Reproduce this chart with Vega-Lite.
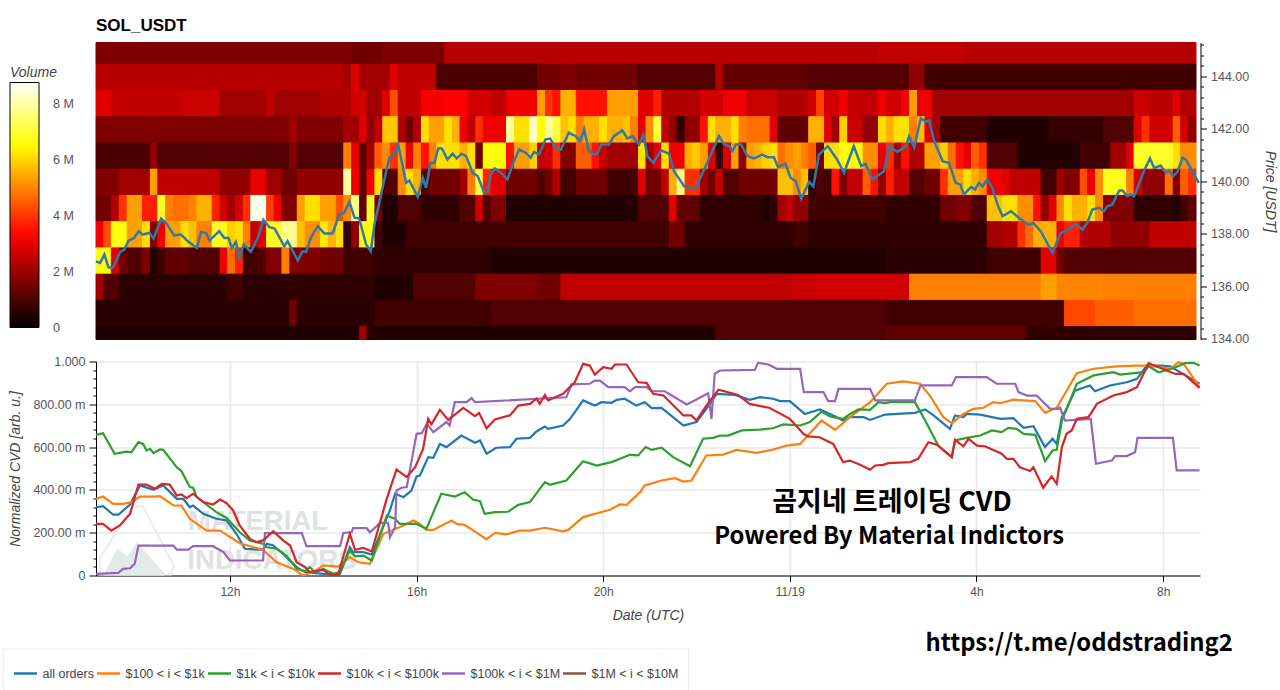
{"$schema":"https://vega.github.io/schema/vega-lite/v6.json","background":"white","padding":{"left":2,"top":16.5,"right":5,"bottom":0},"bounds":"flush","spacing":22,
"config":{"view":{"stroke":null},"font":"Liberation Sans"},
"datasets":{
"heat":[
{"t0":9.13,"t1":14.63,"p0":144.46,"p1":145.29,"v":1.6},{"t0":14.63,"t1":15.3,"p0":144.46,"p1":145.29,"v":1.45},{"t0":15.3,"t1":16.63,"p0":144.46,"p1":145.29,"v":1.6},{"t0":16.63,"t1":19.13,"p0":144.46,"p1":145.29,"v":2.35},{"t0":19.13,"t1":25.96,"p0":144.46,"p1":145.29,"v":2.4},{"t0":25.96,"t1":27.8,"p0":144.46,"p1":145.29,"v":2.5},{"t0":27.8,"t1":32.79,"p0":144.46,"p1":145.29,"v":2.35},
{"t0":9.13,"t1":14.46,"p0":143.46,"p1":144.46,"v":2.4},{"t0":14.46,"t1":14.63,"p0":143.46,"p1":144.46,"v":2.1},{"t0":14.63,"t1":14.8,"p0":143.46,"p1":144.46,"v":2.85},{"t0":14.8,"t1":15.46,"p0":143.46,"p1":144.46,"v":2.1},{"t0":15.46,"t1":15.63,"p0":143.46,"p1":144.46,"v":2.9},{"t0":15.63,"t1":16.46,"p0":143.46,"p1":144.46,"v":2.5},{"t0":16.46,"t1":18.63,"p0":143.46,"p1":144.46,"v":0.96},{"t0":18.63,"t1":19.13,"p0":143.46,"p1":144.46,"v":1.45},{"t0":19.13,"t1":19.46,"p0":143.46,"p1":144.46,"v":1.66},{"t0":19.46,"t1":20.8,"p0":143.46,"p1":144.46,"v":1.45},{"t0":20.8,"t1":22.46,"p0":143.46,"p1":144.46,"v":1.04},{"t0":22.46,"t1":22.63,"p0":143.46,"p1":144.46,"v":2.28},{"t0":22.63,"t1":24.46,"p0":143.46,"p1":144.46,"v":1.24},{"t0":24.46,"t1":26.63,"p0":143.46,"p1":144.46,"v":1.04},{"t0":26.63,"t1":26.96,"p0":143.46,"p1":144.46,"v":1.86},{"t0":26.96,"t1":32.79,"p0":143.46,"p1":144.46,"v":0.83},
{"t0":9.13,"t1":9.46,"p0":142.46,"p1":143.46,"v":2.9},{"t0":9.46,"t1":10.96,"p0":142.46,"p1":143.46,"v":2.48},{"t0":10.96,"t1":11.8,"p0":142.46,"p1":143.46,"v":2.59},{"t0":11.8,"t1":12.8,"p0":142.46,"p1":143.46,"v":2.07},{"t0":12.8,"t1":12.96,"p0":142.46,"p1":143.46,"v":2.48},{"t0":12.96,"t1":13.96,"p0":142.46,"p1":143.46,"v":2.07},{"t0":13.96,"t1":14.63,"p0":142.46,"p1":143.46,"v":2.28},{"t0":14.63,"t1":14.96,"p0":142.46,"p1":143.46,"v":2.69},{"t0":14.96,"t1":15.3,"p0":142.46,"p1":143.46,"v":2.07},{"t0":15.3,"t1":15.46,"p0":142.46,"p1":143.46,"v":2.9},{"t0":15.46,"t1":15.63,"p0":142.46,"p1":143.46,"v":4.3},{"t0":15.63,"t1":16.13,"p0":142.46,"p1":143.46,"v":2.48},{"t0":16.13,"t1":16.63,"p0":142.46,"p1":143.46,"v":3.2},{"t0":16.63,"t1":17.13,"p0":142.46,"p1":143.46,"v":3.3},{"t0":17.13,"t1":17.63,"p0":142.46,"p1":143.46,"v":2.69},{"t0":17.63,"t1":17.96,"p0":142.46,"p1":143.46,"v":2.48},{"t0":17.96,"t1":18.63,"p0":142.46,"p1":143.46,"v":3.1},{"t0":18.63,"t1":18.8,"p0":142.46,"p1":143.46,"v":5.34},{"t0":18.8,"t1":18.96,"p0":142.46,"p1":143.46,"v":3.9},{"t0":18.96,"t1":19.13,"p0":142.46,"p1":143.46,"v":3.5},{"t0":19.13,"t1":19.46,"p0":142.46,"p1":143.46,"v":5.54},{"t0":19.46,"t1":20.13,"p0":142.46,"p1":143.46,"v":3.5},{"t0":20.13,"t1":20.8,"p0":142.46,"p1":143.46,"v":5.34},{"t0":20.8,"t1":21.13,"p0":142.46,"p1":143.46,"v":2.9},{"t0":21.13,"t1":21.3,"p0":142.46,"p1":143.46,"v":3.7},{"t0":21.3,"t1":22.13,"p0":142.46,"p1":143.46,"v":2.28},{"t0":22.13,"t1":22.63,"p0":142.46,"p1":143.46,"v":2.69},{"t0":22.63,"t1":23.13,"p0":142.46,"p1":143.46,"v":3.1},{"t0":23.13,"t1":23.8,"p0":142.46,"p1":143.46,"v":2.59},{"t0":23.8,"t1":24.46,"p0":142.46,"p1":143.46,"v":2.28},{"t0":24.46,"t1":24.63,"p0":142.46,"p1":143.46,"v":2.69},{"t0":24.63,"t1":24.8,"p0":142.46,"p1":143.46,"v":4.1},{"t0":24.8,"t1":25.13,"p0":142.46,"p1":143.46,"v":2.69},{"t0":25.13,"t1":25.3,"p0":142.46,"p1":143.46,"v":3.1},{"t0":25.3,"t1":25.96,"p0":142.46,"p1":143.46,"v":2.48},{"t0":25.96,"t1":26.13,"p0":142.46,"p1":143.46,"v":3.1},{"t0":26.13,"t1":26.46,"p0":142.46,"p1":143.46,"v":2.69},{"t0":26.46,"t1":26.63,"p0":142.46,"p1":143.46,"v":3.1},{"t0":26.63,"t1":26.8,"p0":142.46,"p1":143.46,"v":5.34},{"t0":26.8,"t1":26.96,"p0":142.46,"p1":143.46,"v":3.0},{"t0":26.96,"t1":27.13,"p0":142.46,"p1":143.46,"v":3.1},{"t0":27.13,"t1":31.46,"p0":142.46,"p1":143.46,"v":2.07},{"t0":31.46,"t1":31.8,"p0":142.46,"p1":143.46,"v":2.59},{"t0":31.8,"t1":32.3,"p0":142.46,"p1":143.46,"v":2.38},{"t0":32.3,"t1":32.46,"p0":142.46,"p1":143.46,"v":2.9},{"t0":32.46,"t1":32.79,"p0":142.46,"p1":143.46,"v":2.28},
{"t0":9.13,"t1":13.3,"p0":141.46,"p1":142.46,"v":1.66},{"t0":13.3,"t1":13.46,"p0":141.46,"p1":142.46,"v":2.07},{"t0":13.46,"t1":14.46,"p0":141.46,"p1":142.46,"v":1.66},{"t0":14.46,"t1":14.8,"p0":141.46,"p1":142.46,"v":2.07},{"t0":14.8,"t1":14.96,"p0":141.46,"p1":142.46,"v":2.9},{"t0":14.96,"t1":15.13,"p0":141.46,"p1":142.46,"v":1.86},{"t0":15.13,"t1":15.3,"p0":141.46,"p1":142.46,"v":2.48},{"t0":15.3,"t1":15.63,"p0":141.46,"p1":142.46,"v":5.85},{"t0":15.63,"t1":15.8,"p0":141.46,"p1":142.46,"v":2.28},{"t0":15.8,"t1":15.96,"p0":141.46,"p1":142.46,"v":1.45},{"t0":15.96,"t1":16.13,"p0":141.46,"p1":142.46,"v":2.28},{"t0":16.13,"t1":16.3,"p0":141.46,"p1":142.46,"v":6.15},{"t0":16.3,"t1":16.63,"p0":141.46,"p1":142.46,"v":5.34},{"t0":16.63,"t1":16.8,"p0":141.46,"p1":142.46,"v":6.15},{"t0":16.8,"t1":16.96,"p0":141.46,"p1":142.46,"v":5.54},{"t0":16.96,"t1":17.13,"p0":141.46,"p1":142.46,"v":3.1},{"t0":17.13,"t1":17.3,"p0":141.46,"p1":142.46,"v":2.48},{"t0":17.3,"t1":17.46,"p0":141.46,"p1":142.46,"v":3.9},{"t0":17.46,"t1":17.96,"p0":141.46,"p1":142.46,"v":3.1},{"t0":17.96,"t1":18.13,"p0":141.46,"p1":142.46,"v":7.95},{"t0":18.13,"t1":18.46,"p0":141.46,"p1":142.46,"v":6.15},{"t0":18.46,"t1":18.63,"p0":141.46,"p1":142.46,"v":8.2},{"t0":18.63,"t1":18.8,"p0":141.46,"p1":142.46,"v":6.55},{"t0":18.8,"t1":18.96,"p0":141.46,"p1":142.46,"v":7.95},{"t0":18.96,"t1":19.13,"p0":141.46,"p1":142.46,"v":7.1},{"t0":19.13,"t1":19.3,"p0":141.46,"p1":142.46,"v":5.75},{"t0":19.3,"t1":19.46,"p0":141.46,"p1":142.46,"v":6.15},{"t0":19.46,"t1":19.63,"p0":141.46,"p1":142.46,"v":4.93},{"t0":19.63,"t1":19.96,"p0":141.46,"p1":142.46,"v":5.54},{"t0":19.96,"t1":20.13,"p0":141.46,"p1":142.46,"v":6.15},{"t0":20.13,"t1":20.46,"p0":141.46,"p1":142.46,"v":5.54},{"t0":20.46,"t1":20.63,"p0":141.46,"p1":142.46,"v":5.75},{"t0":20.63,"t1":20.8,"p0":141.46,"p1":142.46,"v":4.93},{"t0":20.8,"t1":20.96,"p0":141.46,"p1":142.46,"v":2.9},{"t0":20.96,"t1":21.13,"p0":141.46,"p1":142.46,"v":5.1},{"t0":21.13,"t1":21.3,"p0":141.46,"p1":142.46,"v":7.1},{"t0":21.3,"t1":21.46,"p0":141.46,"p1":142.46,"v":2.48},{"t0":21.46,"t1":21.63,"p0":141.46,"p1":142.46,"v":1.86},{"t0":21.63,"t1":21.8,"p0":141.46,"p1":142.46,"v":0.62},{"t0":21.8,"t1":22.13,"p0":141.46,"p1":142.46,"v":1.86},{"t0":22.13,"t1":22.3,"p0":141.46,"p1":142.46,"v":3.5},{"t0":22.3,"t1":22.46,"p0":141.46,"p1":142.46,"v":6.15},{"t0":22.46,"t1":22.8,"p0":141.46,"p1":142.46,"v":5.54},{"t0":22.8,"t1":22.96,"p0":141.46,"p1":142.46,"v":6.15},{"t0":22.96,"t1":23.13,"p0":141.46,"p1":142.46,"v":4.93},{"t0":23.13,"t1":23.63,"p0":141.46,"p1":142.46,"v":4.7},{"t0":23.63,"t1":23.8,"p0":141.46,"p1":142.46,"v":2.9},{"t0":23.8,"t1":24.46,"p0":141.46,"p1":142.46,"v":1.24},{"t0":24.46,"t1":24.8,"p0":141.46,"p1":142.46,"v":5.54},{"t0":24.8,"t1":24.96,"p0":141.46,"p1":142.46,"v":2.9},{"t0":24.96,"t1":25.13,"p0":141.46,"p1":142.46,"v":2.07},{"t0":25.13,"t1":25.3,"p0":141.46,"p1":142.46,"v":5.95},{"t0":25.3,"t1":25.63,"p0":141.46,"p1":142.46,"v":2.59},{"t0":25.63,"t1":25.96,"p0":141.46,"p1":142.46,"v":1.86},{"t0":25.96,"t1":26.13,"p0":141.46,"p1":142.46,"v":6.15},{"t0":26.13,"t1":26.3,"p0":141.46,"p1":142.46,"v":5.54},{"t0":26.3,"t1":26.63,"p0":141.46,"p1":142.46,"v":6.15},{"t0":26.63,"t1":26.8,"p0":141.46,"p1":142.46,"v":4.93},{"t0":26.8,"t1":26.96,"p0":141.46,"p1":142.46,"v":5.75},{"t0":26.96,"t1":27.13,"p0":141.46,"p1":142.46,"v":2.9},{"t0":27.13,"t1":27.3,"p0":141.46,"p1":142.46,"v":2.07},{"t0":27.3,"t1":28.3,"p0":141.46,"p1":142.46,"v":0.83},{"t0":28.3,"t1":29.63,"p0":141.46,"p1":142.46,"v":0.41},{"t0":29.63,"t1":30.8,"p0":141.46,"p1":142.46,"v":0.68},{"t0":30.8,"t1":31.46,"p0":141.46,"p1":142.46,"v":1.04},{"t0":31.46,"t1":31.63,"p0":141.46,"p1":142.46,"v":2.9},{"t0":31.63,"t1":31.8,"p0":141.46,"p1":142.46,"v":3.9},{"t0":31.8,"t1":32.3,"p0":141.46,"p1":142.46,"v":2.69},{"t0":32.3,"t1":32.46,"p0":141.46,"p1":142.46,"v":4.5},{"t0":32.46,"t1":32.63,"p0":141.46,"p1":142.46,"v":2.69},{"t0":32.63,"t1":32.79,"p0":141.46,"p1":142.46,"v":1.86},
{"t0":9.13,"t1":10.3,"p0":140.46,"p1":141.46,"v":0.96},{"t0":10.3,"t1":10.46,"p0":140.46,"p1":141.46,"v":1.86},{"t0":10.46,"t1":13.3,"p0":140.46,"p1":141.46,"v":1.04},{"t0":13.3,"t1":13.46,"p0":140.46,"p1":141.46,"v":1.66},{"t0":13.46,"t1":14.46,"p0":140.46,"p1":141.46,"v":1.04},{"t0":14.46,"t1":14.63,"p0":140.46,"p1":141.46,"v":4.93},{"t0":14.63,"t1":14.8,"p0":140.46,"p1":141.46,"v":3.0},{"t0":14.8,"t1":14.96,"p0":140.46,"p1":141.46,"v":1.24},{"t0":14.96,"t1":15.13,"p0":140.46,"p1":141.46,"v":2.07},{"t0":15.13,"t1":15.3,"p0":140.46,"p1":141.46,"v":4.5},{"t0":15.3,"t1":15.46,"p0":140.46,"p1":141.46,"v":5.1},{"t0":15.46,"t1":15.63,"p0":140.46,"p1":141.46,"v":3.9},{"t0":15.63,"t1":15.8,"p0":140.46,"p1":141.46,"v":5.34},{"t0":15.8,"t1":15.96,"p0":140.46,"p1":141.46,"v":3.1},{"t0":15.96,"t1":16.13,"p0":140.46,"p1":141.46,"v":4.93},{"t0":16.13,"t1":16.3,"p0":140.46,"p1":141.46,"v":3.5},{"t0":16.3,"t1":16.46,"p0":140.46,"p1":141.46,"v":4.93},{"t0":16.46,"t1":16.96,"p0":140.46,"p1":141.46,"v":6.15},{"t0":16.96,"t1":17.13,"p0":140.46,"p1":141.46,"v":5.54},{"t0":17.13,"t1":17.3,"p0":140.46,"p1":141.46,"v":6.15},{"t0":17.3,"t1":17.46,"p0":140.46,"p1":141.46,"v":1.45},{"t0":17.46,"t1":17.96,"p0":140.46,"p1":141.46,"v":6.6},{"t0":17.96,"t1":18.13,"p0":140.46,"p1":141.46,"v":3.5},{"t0":18.13,"t1":18.46,"p0":140.46,"p1":141.46,"v":5.34},{"t0":18.46,"t1":18.63,"p0":140.46,"p1":141.46,"v":5.95},{"t0":18.63,"t1":18.8,"p0":140.46,"p1":141.46,"v":2.48},{"t0":18.8,"t1":18.96,"p0":140.46,"p1":141.46,"v":2.69},{"t0":18.96,"t1":19.13,"p0":140.46,"p1":141.46,"v":3.9},{"t0":19.13,"t1":19.46,"p0":140.46,"p1":141.46,"v":1.66},{"t0":19.46,"t1":19.8,"p0":140.46,"p1":141.46,"v":4.5},{"t0":19.8,"t1":19.96,"p0":140.46,"p1":141.46,"v":3.5},{"t0":19.96,"t1":20.13,"p0":140.46,"p1":141.46,"v":2.48},{"t0":20.13,"t1":20.8,"p0":140.46,"p1":141.46,"v":2.07},{"t0":20.8,"t1":20.96,"p0":140.46,"p1":141.46,"v":6.15},{"t0":20.96,"t1":21.13,"p0":140.46,"p1":141.46,"v":2.07},{"t0":21.13,"t1":21.3,"p0":140.46,"p1":141.46,"v":3.0},{"t0":21.3,"t1":21.46,"p0":140.46,"p1":141.46,"v":6.15},{"t0":21.46,"t1":21.8,"p0":140.46,"p1":141.46,"v":3.1},{"t0":21.8,"t1":21.96,"p0":140.46,"p1":141.46,"v":5.54},{"t0":21.96,"t1":22.13,"p0":140.46,"p1":141.46,"v":5.85},{"t0":22.13,"t1":22.3,"p0":140.46,"p1":141.46,"v":5.34},{"t0":22.3,"t1":22.46,"p0":140.46,"p1":141.46,"v":2.9},{"t0":22.46,"t1":22.63,"p0":140.46,"p1":141.46,"v":0.83},{"t0":22.63,"t1":22.8,"p0":140.46,"p1":141.46,"v":2.9},{"t0":22.8,"t1":22.96,"p0":140.46,"p1":141.46,"v":5.34},{"t0":22.96,"t1":23.13,"p0":140.46,"p1":141.46,"v":1.86},{"t0":23.13,"t1":23.3,"p0":140.46,"p1":141.46,"v":5.34},{"t0":23.3,"t1":23.46,"p0":140.46,"p1":141.46,"v":5.54},{"t0":23.46,"t1":23.63,"p0":140.46,"p1":141.46,"v":5.95},{"t0":23.63,"t1":23.8,"p0":140.46,"p1":141.46,"v":6.15},{"t0":23.8,"t1":23.96,"p0":140.46,"p1":141.46,"v":4.7},{"t0":23.96,"t1":24.13,"p0":140.46,"p1":141.46,"v":5.1},{"t0":24.13,"t1":24.3,"p0":140.46,"p1":141.46,"v":5.34},{"t0":24.3,"t1":24.46,"p0":140.46,"p1":141.46,"v":4.93},{"t0":24.46,"t1":24.63,"p0":140.46,"p1":141.46,"v":4.5},{"t0":24.63,"t1":24.8,"p0":140.46,"p1":141.46,"v":1.45},{"t0":24.8,"t1":25.13,"p0":140.46,"p1":141.46,"v":6.15},{"t0":25.13,"t1":25.63,"p0":140.46,"p1":141.46,"v":6.55},{"t0":25.63,"t1":25.96,"p0":140.46,"p1":141.46,"v":5.1},{"t0":25.96,"t1":26.13,"p0":140.46,"p1":141.46,"v":3.0},{"t0":26.13,"t1":26.3,"p0":140.46,"p1":141.46,"v":3.9},{"t0":26.3,"t1":26.46,"p0":140.46,"p1":141.46,"v":2.07},{"t0":26.46,"t1":26.63,"p0":140.46,"p1":141.46,"v":3.5},{"t0":26.63,"t1":26.96,"p0":140.46,"p1":141.46,"v":2.28},{"t0":26.96,"t1":27.3,"p0":140.46,"p1":141.46,"v":5.34},{"t0":27.3,"t1":27.46,"p0":140.46,"p1":141.46,"v":5.95},{"t0":27.46,"t1":27.63,"p0":140.46,"p1":141.46,"v":4.7},{"t0":27.63,"t1":27.8,"p0":140.46,"p1":141.46,"v":3.5},{"t0":27.8,"t1":27.96,"p0":140.46,"p1":141.46,"v":3.0},{"t0":27.96,"t1":28.13,"p0":140.46,"p1":141.46,"v":4.5},{"t0":28.13,"t1":28.3,"p0":140.46,"p1":141.46,"v":3.9},{"t0":28.3,"t1":28.96,"p0":140.46,"p1":141.46,"v":1.04},{"t0":28.96,"t1":30.3,"p0":140.46,"p1":141.46,"v":0.41},{"t0":30.3,"t1":30.96,"p0":140.46,"p1":141.46,"v":0.83},{"t0":30.96,"t1":31.3,"p0":140.46,"p1":141.46,"v":2.07},{"t0":31.3,"t1":31.46,"p0":140.46,"p1":141.46,"v":2.9},{"t0":31.46,"t1":32.3,"p0":140.46,"p1":141.46,"v":6.9},{"t0":32.3,"t1":32.46,"p0":140.46,"p1":141.46,"v":6.15},{"t0":32.46,"t1":32.79,"p0":140.46,"p1":141.46,"v":5.1},
{"t0":9.13,"t1":9.63,"p0":139.46,"p1":140.46,"v":1.66},{"t0":9.63,"t1":10.3,"p0":139.46,"p1":140.46,"v":2.07},{"t0":10.3,"t1":10.46,"p0":139.46,"p1":140.46,"v":5.34},{"t0":10.46,"t1":11.8,"p0":139.46,"p1":140.46,"v":2.48},{"t0":11.8,"t1":12.46,"p0":139.46,"p1":140.46,"v":1.86},{"t0":12.46,"t1":12.8,"p0":139.46,"p1":140.46,"v":3.0},{"t0":12.8,"t1":13.13,"p0":139.46,"p1":140.46,"v":2.07},{"t0":13.13,"t1":13.46,"p0":139.46,"p1":140.46,"v":1.45},{"t0":13.46,"t1":14.46,"p0":139.46,"p1":140.46,"v":1.86},{"t0":14.46,"t1":14.63,"p0":139.46,"p1":140.46,"v":7.95},{"t0":14.63,"t1":14.8,"p0":139.46,"p1":140.46,"v":3.1},{"t0":14.8,"t1":14.96,"p0":139.46,"p1":140.46,"v":1.24},{"t0":14.96,"t1":15.13,"p0":139.46,"p1":140.46,"v":3.1},{"t0":15.13,"t1":15.3,"p0":139.46,"p1":140.46,"v":6.15},{"t0":15.3,"t1":15.63,"p0":139.46,"p1":140.46,"v":1.04},{"t0":15.63,"t1":15.8,"p0":139.46,"p1":140.46,"v":5.1},{"t0":15.8,"t1":15.96,"p0":139.46,"p1":140.46,"v":6.15},{"t0":15.96,"t1":16.13,"p0":139.46,"p1":140.46,"v":5.54},{"t0":16.13,"t1":16.3,"p0":139.46,"p1":140.46,"v":1.04},{"t0":16.3,"t1":16.96,"p0":139.46,"p1":140.46,"v":1.45},{"t0":16.96,"t1":17.13,"p0":139.46,"p1":140.46,"v":2.07},{"t0":17.13,"t1":17.3,"p0":139.46,"p1":140.46,"v":4.93},{"t0":17.3,"t1":17.46,"p0":139.46,"p1":140.46,"v":7.1},{"t0":17.46,"t1":17.63,"p0":139.46,"p1":140.46,"v":3.7},{"t0":17.63,"t1":17.96,"p0":139.46,"p1":140.46,"v":2.9},{"t0":17.96,"t1":18.63,"p0":139.46,"p1":140.46,"v":1.45},{"t0":18.63,"t1":18.8,"p0":139.46,"p1":140.46,"v":1.04},{"t0":18.8,"t1":18.96,"p0":139.46,"p1":140.46,"v":1.45},{"t0":18.96,"t1":19.13,"p0":139.46,"p1":140.46,"v":2.28},{"t0":19.13,"t1":19.46,"p0":139.46,"p1":140.46,"v":0.83},{"t0":19.46,"t1":20.13,"p0":139.46,"p1":140.46,"v":1.45},{"t0":20.13,"t1":20.8,"p0":139.46,"p1":140.46,"v":0.83},{"t0":20.8,"t1":20.96,"p0":139.46,"p1":140.46,"v":2.9},{"t0":20.96,"t1":21.3,"p0":139.46,"p1":140.46,"v":1.45},{"t0":21.3,"t1":21.46,"p0":139.46,"p1":140.46,"v":2.48},{"t0":21.46,"t1":21.63,"p0":139.46,"p1":140.46,"v":5.54},{"t0":21.63,"t1":21.8,"p0":139.46,"p1":140.46,"v":7.66},{"t0":21.8,"t1":22.13,"p0":139.46,"p1":140.46,"v":3.9},{"t0":22.13,"t1":22.3,"p0":139.46,"p1":140.46,"v":2.07},{"t0":22.3,"t1":22.46,"p0":139.46,"p1":140.46,"v":1.45},{"t0":22.46,"t1":22.63,"p0":139.46,"p1":140.46,"v":2.48},{"t0":22.63,"t1":22.96,"p0":139.46,"p1":140.46,"v":1.04},{"t0":22.96,"t1":23.8,"p0":139.46,"p1":140.46,"v":1.45},{"t0":23.8,"t1":24.13,"p0":139.46,"p1":140.46,"v":5.75},{"t0":24.13,"t1":24.3,"p0":139.46,"p1":140.46,"v":5.1},{"t0":24.3,"t1":24.46,"p0":139.46,"p1":140.46,"v":5.75},{"t0":24.46,"t1":24.63,"p0":139.46,"p1":140.46,"v":0.62},{"t0":24.63,"t1":24.8,"p0":139.46,"p1":140.46,"v":1.04},{"t0":24.8,"t1":24.96,"p0":139.46,"p1":140.46,"v":0.83},{"t0":24.96,"t1":25.13,"p0":139.46,"p1":140.46,"v":3.5},{"t0":25.13,"t1":25.3,"p0":139.46,"p1":140.46,"v":1.66},{"t0":25.3,"t1":25.63,"p0":139.46,"p1":140.46,"v":2.48},{"t0":25.63,"t1":25.8,"p0":139.46,"p1":140.46,"v":4.5},{"t0":25.8,"t1":25.96,"p0":139.46,"p1":140.46,"v":3.5},{"t0":25.96,"t1":26.13,"p0":139.46,"p1":140.46,"v":1.86},{"t0":26.13,"t1":26.3,"p0":139.46,"p1":140.46,"v":3.7},{"t0":26.3,"t1":26.63,"p0":139.46,"p1":140.46,"v":2.48},{"t0":26.63,"t1":26.96,"p0":139.46,"p1":140.46,"v":1.04},{"t0":26.96,"t1":27.3,"p0":139.46,"p1":140.46,"v":1.45},{"t0":27.3,"t1":27.46,"p0":139.46,"p1":140.46,"v":3.9},{"t0":27.46,"t1":27.8,"p0":139.46,"p1":140.46,"v":5.34},{"t0":27.8,"t1":27.96,"p0":139.46,"p1":140.46,"v":6.15},{"t0":27.96,"t1":28.13,"p0":139.46,"p1":140.46,"v":5.54},{"t0":28.13,"t1":28.3,"p0":139.46,"p1":140.46,"v":5.1},{"t0":28.3,"t1":28.63,"p0":139.46,"p1":140.46,"v":3.1},{"t0":28.63,"t1":28.8,"p0":139.46,"p1":140.46,"v":2.9},{"t0":28.8,"t1":29.46,"p0":139.46,"p1":140.46,"v":2.48},{"t0":29.46,"t1":29.8,"p0":139.46,"p1":140.46,"v":0.83},{"t0":29.8,"t1":29.96,"p0":139.46,"p1":140.46,"v":2.07},{"t0":29.96,"t1":30.3,"p0":139.46,"p1":140.46,"v":1.66},{"t0":30.3,"t1":30.46,"p0":139.46,"p1":140.46,"v":4.3},{"t0":30.46,"t1":30.63,"p0":139.46,"p1":140.46,"v":3.0},{"t0":30.63,"t1":30.8,"p0":139.46,"p1":140.46,"v":5.1},{"t0":30.8,"t1":31.3,"p0":139.46,"p1":140.46,"v":6.8},{"t0":31.3,"t1":31.46,"p0":139.46,"p1":140.46,"v":4.93},{"t0":31.46,"t1":31.63,"p0":139.46,"p1":140.46,"v":2.69},{"t0":31.63,"t1":32.13,"p0":139.46,"p1":140.46,"v":1.86},{"t0":32.13,"t1":32.3,"p0":139.46,"p1":140.46,"v":4.7},{"t0":32.3,"t1":32.46,"p0":139.46,"p1":140.46,"v":1.66},{"t0":32.46,"t1":32.63,"p0":139.46,"p1":140.46,"v":4.5},{"t0":32.63,"t1":32.79,"p0":139.46,"p1":140.46,"v":3.9},
{"t0":9.13,"t1":9.46,"p0":138.46,"p1":139.46,"v":1.45},{"t0":9.46,"t1":9.63,"p0":138.46,"p1":139.46,"v":2.28},{"t0":9.63,"t1":9.8,"p0":138.46,"p1":139.46,"v":3.9},{"t0":9.8,"t1":10.13,"p0":138.46,"p1":139.46,"v":5.34},{"t0":10.13,"t1":10.46,"p0":138.46,"p1":139.46,"v":3.7},{"t0":10.46,"t1":10.63,"p0":138.46,"p1":139.46,"v":6.9},{"t0":10.63,"t1":10.8,"p0":138.46,"p1":139.46,"v":4.93},{"t0":10.8,"t1":11.13,"p0":138.46,"p1":139.46,"v":4.7},{"t0":11.13,"t1":11.3,"p0":138.46,"p1":139.46,"v":4.93},{"t0":11.3,"t1":11.63,"p0":138.46,"p1":139.46,"v":5.54},{"t0":11.63,"t1":11.8,"p0":138.46,"p1":139.46,"v":3.7},{"t0":11.8,"t1":11.96,"p0":138.46,"p1":139.46,"v":2.69},{"t0":11.96,"t1":12.13,"p0":138.46,"p1":139.46,"v":2.07},{"t0":12.13,"t1":12.3,"p0":138.46,"p1":139.46,"v":2.69},{"t0":12.3,"t1":12.46,"p0":138.46,"p1":139.46,"v":3.9},{"t0":12.46,"t1":12.8,"p0":138.46,"p1":139.46,"v":8.6},{"t0":12.8,"t1":12.96,"p0":138.46,"p1":139.46,"v":4.1},{"t0":12.96,"t1":13.13,"p0":138.46,"p1":139.46,"v":3.1},{"t0":13.13,"t1":13.46,"p0":138.46,"p1":139.46,"v":1.66},{"t0":13.46,"t1":13.63,"p0":138.46,"p1":139.46,"v":5.34},{"t0":13.63,"t1":13.96,"p0":138.46,"p1":139.46,"v":6.15},{"t0":13.96,"t1":14.3,"p0":138.46,"p1":139.46,"v":5.34},{"t0":14.3,"t1":14.46,"p0":138.46,"p1":139.46,"v":4.3},{"t0":14.46,"t1":14.63,"p0":138.46,"p1":139.46,"v":5.1},{"t0":14.63,"t1":14.8,"p0":138.46,"p1":139.46,"v":7.66},{"t0":14.8,"t1":14.96,"p0":138.46,"p1":139.46,"v":1.24},{"t0":14.96,"t1":15.13,"p0":138.46,"p1":139.46,"v":6.9},{"t0":15.13,"t1":15.3,"p0":138.46,"p1":139.46,"v":1.45},{"t0":15.3,"t1":15.63,"p0":138.46,"p1":139.46,"v":0.41},{"t0":15.63,"t1":16.13,"p0":138.46,"p1":139.46,"v":1.04},{"t0":16.13,"t1":16.96,"p0":138.46,"p1":139.46,"v":0.62},{"t0":16.96,"t1":17.3,"p0":138.46,"p1":139.46,"v":1.04},{"t0":17.3,"t1":17.46,"p0":138.46,"p1":139.46,"v":2.69},{"t0":17.46,"t1":17.63,"p0":138.46,"p1":139.46,"v":1.04},{"t0":17.63,"t1":17.96,"p0":138.46,"p1":139.46,"v":1.66},{"t0":17.96,"t1":20.8,"p0":138.46,"p1":139.46,"v":0.41},{"t0":20.8,"t1":21.46,"p0":138.46,"p1":139.46,"v":1.04},{"t0":21.46,"t1":21.63,"p0":138.46,"p1":139.46,"v":2.9},{"t0":21.63,"t1":22.13,"p0":138.46,"p1":139.46,"v":1.24},{"t0":22.13,"t1":23.46,"p0":138.46,"p1":139.46,"v":0.62},{"t0":23.46,"t1":23.63,"p0":138.46,"p1":139.46,"v":0.41},{"t0":23.63,"t1":23.8,"p0":138.46,"p1":139.46,"v":0.62},{"t0":23.8,"t1":23.96,"p0":138.46,"p1":139.46,"v":2.07},{"t0":23.96,"t1":24.13,"p0":138.46,"p1":139.46,"v":2.48},{"t0":24.13,"t1":24.46,"p0":138.46,"p1":139.46,"v":1.86},{"t0":24.46,"t1":26.13,"p0":138.46,"p1":139.46,"v":0.83},{"t0":26.13,"t1":27.3,"p0":138.46,"p1":139.46,"v":0.62},{"t0":27.3,"t1":27.63,"p0":138.46,"p1":139.46,"v":1.45},{"t0":27.63,"t1":27.96,"p0":138.46,"p1":139.46,"v":1.66},{"t0":27.96,"t1":28.3,"p0":138.46,"p1":139.46,"v":1.04},{"t0":28.3,"t1":28.63,"p0":138.46,"p1":139.46,"v":5.75},{"t0":28.63,"t1":28.96,"p0":138.46,"p1":139.46,"v":6.15},{"t0":28.96,"t1":29.3,"p0":138.46,"p1":139.46,"v":5.1},{"t0":29.3,"t1":29.46,"p0":138.46,"p1":139.46,"v":3.5},{"t0":29.46,"t1":29.63,"p0":138.46,"p1":139.46,"v":1.86},{"t0":29.63,"t1":29.8,"p0":138.46,"p1":139.46,"v":2.9},{"t0":29.8,"t1":29.96,"p0":138.46,"p1":139.46,"v":5.1},{"t0":29.96,"t1":30.13,"p0":138.46,"p1":139.46,"v":6.15},{"t0":30.13,"t1":30.46,"p0":138.46,"p1":139.46,"v":5.54},{"t0":30.46,"t1":30.63,"p0":138.46,"p1":139.46,"v":6.15},{"t0":30.63,"t1":30.8,"p0":138.46,"p1":139.46,"v":5.1},{"t0":30.8,"t1":31.46,"p0":138.46,"p1":139.46,"v":1.66},{"t0":31.46,"t1":32.3,"p0":138.46,"p1":139.46,"v":0.62},{"t0":32.3,"t1":32.46,"p0":138.46,"p1":139.46,"v":0.41},{"t0":32.46,"t1":32.63,"p0":138.46,"p1":139.46,"v":0.83},{"t0":32.63,"t1":32.79,"p0":138.46,"p1":139.46,"v":1.24},
{"t0":9.13,"t1":9.3,"p0":137.46,"p1":138.46,"v":3.1},{"t0":9.3,"t1":9.46,"p0":137.46,"p1":138.46,"v":4.3},{"t0":9.46,"t1":9.8,"p0":137.46,"p1":138.46,"v":6.65},{"t0":9.8,"t1":10.13,"p0":137.46,"p1":138.46,"v":5.34},{"t0":10.13,"t1":10.3,"p0":137.46,"p1":138.46,"v":6.15},{"t0":10.3,"t1":10.46,"p0":137.46,"p1":138.46,"v":1.66},{"t0":10.46,"t1":10.63,"p0":137.46,"p1":138.46,"v":3.1},{"t0":10.63,"t1":10.96,"p0":137.46,"p1":138.46,"v":5.34},{"t0":10.96,"t1":11.13,"p0":137.46,"p1":138.46,"v":6.15},{"t0":11.13,"t1":11.3,"p0":137.46,"p1":138.46,"v":5.75},{"t0":11.3,"t1":11.63,"p0":137.46,"p1":138.46,"v":4.93},{"t0":11.63,"t1":11.96,"p0":137.46,"p1":138.46,"v":6.82},{"t0":11.96,"t1":12.13,"p0":137.46,"p1":138.46,"v":5.95},{"t0":12.13,"t1":12.3,"p0":137.46,"p1":138.46,"v":6.15},{"t0":12.3,"t1":12.46,"p0":137.46,"p1":138.46,"v":4.93},{"t0":12.46,"t1":12.63,"p0":137.46,"p1":138.46,"v":2.48},{"t0":12.63,"t1":12.8,"p0":137.46,"p1":138.46,"v":2.9},{"t0":12.8,"t1":13.13,"p0":137.46,"p1":138.46,"v":6.82},{"t0":13.13,"t1":13.46,"p0":137.46,"p1":138.46,"v":7.8},{"t0":13.46,"t1":13.63,"p0":137.46,"p1":138.46,"v":5.75},{"t0":13.63,"t1":13.96,"p0":137.46,"p1":138.46,"v":5.1},{"t0":13.96,"t1":14.13,"p0":137.46,"p1":138.46,"v":6.3},{"t0":14.13,"t1":14.3,"p0":137.46,"p1":138.46,"v":5.54},{"t0":14.3,"t1":14.46,"p0":137.46,"p1":138.46,"v":6.15},{"t0":14.46,"t1":14.63,"p0":137.46,"p1":138.46,"v":0.62},{"t0":14.63,"t1":14.8,"p0":137.46,"p1":138.46,"v":1.86},{"t0":14.8,"t1":15.13,"p0":137.46,"p1":138.46,"v":6.6},{"t0":15.13,"t1":15.3,"p0":137.46,"p1":138.46,"v":0.83},{"t0":15.3,"t1":15.8,"p0":137.46,"p1":138.46,"v":0.41},{"t0":15.8,"t1":21.46,"p0":137.46,"p1":138.46,"v":0.83},{"t0":21.46,"t1":21.8,"p0":137.46,"p1":138.46,"v":1.45},{"t0":21.8,"t1":24.13,"p0":137.46,"p1":138.46,"v":0.62},{"t0":24.13,"t1":24.46,"p0":137.46,"p1":138.46,"v":0.83},{"t0":24.46,"t1":28.3,"p0":137.46,"p1":138.46,"v":0.6},{"t0":28.3,"t1":28.63,"p0":137.46,"p1":138.46,"v":2.07},{"t0":28.63,"t1":28.96,"p0":137.46,"p1":138.46,"v":2.28},{"t0":28.96,"t1":29.13,"p0":137.46,"p1":138.46,"v":3.9},{"t0":29.13,"t1":29.3,"p0":137.46,"p1":138.46,"v":4.7},{"t0":29.3,"t1":29.8,"p0":137.46,"p1":138.46,"v":5.54},{"t0":29.8,"t1":29.96,"p0":137.46,"p1":138.46,"v":3.1},{"t0":29.96,"t1":30.3,"p0":137.46,"p1":138.46,"v":3.7},{"t0":30.3,"t1":30.96,"p0":137.46,"p1":138.46,"v":2.28},{"t0":30.96,"t1":31.8,"p0":137.46,"p1":138.46,"v":1.86},{"t0":31.8,"t1":32.79,"p0":137.46,"p1":138.46,"v":2.48},
{"t0":9.13,"t1":9.46,"p0":136.46,"p1":137.46,"v":6.65},{"t0":9.46,"t1":9.63,"p0":136.46,"p1":137.46,"v":2.9},{"t0":9.63,"t1":9.8,"p0":136.46,"p1":137.46,"v":1.45},{"t0":9.8,"t1":10.13,"p0":136.46,"p1":137.46,"v":1.04},{"t0":10.13,"t1":10.3,"p0":136.46,"p1":137.46,"v":1.66},{"t0":10.3,"t1":10.46,"p0":136.46,"p1":137.46,"v":0.41},{"t0":10.46,"t1":10.63,"p0":136.46,"p1":137.46,"v":0.83},{"t0":10.63,"t1":11.13,"p0":136.46,"p1":137.46,"v":1.24},{"t0":11.13,"t1":11.8,"p0":136.46,"p1":137.46,"v":1.04},{"t0":11.8,"t1":11.96,"p0":136.46,"p1":137.46,"v":3.1},{"t0":11.96,"t1":12.13,"p0":136.46,"p1":137.46,"v":4.7},{"t0":12.13,"t1":12.3,"p0":136.46,"p1":137.46,"v":3.7},{"t0":12.3,"t1":12.63,"p0":136.46,"p1":137.46,"v":0.83},{"t0":12.63,"t1":12.8,"p0":136.46,"p1":137.46,"v":1.04},{"t0":12.8,"t1":13.13,"p0":136.46,"p1":137.46,"v":1.66},{"t0":13.13,"t1":13.3,"p0":136.46,"p1":137.46,"v":4.93},{"t0":13.3,"t1":13.96,"p0":136.46,"p1":137.46,"v":1.66},{"t0":13.96,"t1":14.46,"p0":136.46,"p1":137.46,"v":1.45},{"t0":14.46,"t1":15.13,"p0":136.46,"p1":137.46,"v":0.83},{"t0":15.13,"t1":17.63,"p0":136.46,"p1":137.46,"v":0.62},{"t0":17.63,"t1":26.13,"p0":136.46,"p1":137.46,"v":0.41},{"t0":26.13,"t1":28.3,"p0":136.46,"p1":137.46,"v":0.54},{"t0":28.3,"t1":29.46,"p0":136.46,"p1":137.46,"v":0.83},{"t0":29.46,"t1":29.8,"p0":136.46,"p1":137.46,"v":2.9},{"t0":29.8,"t1":29.96,"p0":136.46,"p1":137.46,"v":1.45},{"t0":29.96,"t1":32.79,"p0":136.46,"p1":137.46,"v":1.04},
{"t0":9.13,"t1":9.3,"p0":135.46,"p1":136.46,"v":2.07},{"t0":9.3,"t1":9.63,"p0":135.46,"p1":136.46,"v":1.04},{"t0":9.63,"t1":11.96,"p0":135.46,"p1":136.46,"v":0.54},{"t0":11.96,"t1":12.3,"p0":135.46,"p1":136.46,"v":0.83},{"t0":12.3,"t1":13.3,"p0":135.46,"p1":136.46,"v":0.54},{"t0":13.3,"t1":15.13,"p0":135.46,"p1":136.46,"v":0.62},{"t0":15.13,"t1":15.96,"p0":135.46,"p1":136.46,"v":0.41},{"t0":15.96,"t1":17.3,"p0":135.46,"p1":136.46,"v":1.04},{"t0":17.3,"t1":18.63,"p0":135.46,"p1":136.46,"v":1.66},{"t0":18.63,"t1":19.13,"p0":135.46,"p1":136.46,"v":1.45},{"t0":19.13,"t1":24.13,"p0":135.46,"p1":136.46,"v":2.48},{"t0":24.13,"t1":24.63,"p0":135.46,"p1":136.46,"v":2.59},{"t0":24.63,"t1":26.63,"p0":135.46,"p1":136.46,"v":2.69},{"t0":26.63,"t1":29.46,"p0":135.46,"p1":136.46,"v":4.93},{"t0":29.46,"t1":29.8,"p0":135.46,"p1":136.46,"v":5.34},{"t0":29.8,"t1":30.8,"p0":135.46,"p1":136.46,"v":5.0},{"t0":30.8,"t1":32.79,"p0":135.46,"p1":136.46,"v":4.93},
{"t0":9.13,"t1":13.3,"p0":134.46,"p1":135.46,"v":0.54},{"t0":13.3,"t1":13.46,"p0":134.46,"p1":135.46,"v":1.45},{"t0":13.46,"t1":15.13,"p0":134.46,"p1":135.46,"v":0.54},{"t0":15.13,"t1":17.63,"p0":134.46,"p1":135.46,"v":0.83},{"t0":17.63,"t1":26.13,"p0":134.46,"p1":135.46,"v":1.04},{"t0":26.13,"t1":29.96,"p0":134.46,"p1":135.46,"v":0.83},{"t0":29.96,"t1":30.63,"p0":134.46,"p1":135.46,"v":4.2},{"t0":30.63,"t1":31.46,"p0":134.46,"p1":135.46,"v":4.5},{"t0":31.46,"t1":32.79,"p0":134.46,"p1":135.46,"v":4.7},
{"t0":9.13,"t1":14.8,"p0":133.97,"p1":134.46,"v":0.41},{"t0":14.8,"t1":14.96,"p0":133.97,"p1":134.46,"v":2.07},{"t0":14.96,"t1":15.13,"p0":133.97,"p1":134.46,"v":0.62},{"t0":15.13,"t1":22.46,"p0":133.97,"p1":134.46,"v":0.41},{"t0":22.46,"t1":26.13,"p0":133.97,"p1":134.46,"v":1.04},{"t0":26.13,"t1":29.13,"p0":133.97,"p1":134.46,"v":1.24},{"t0":29.13,"t1":32.79,"p0":133.97,"p1":134.46,"v":0.62}
],
"price":[{"t0":9.13,"p0":136.95},{"t0":9.22,"p0":136.89},{"t0":9.31,"p0":137.21},{"t0":9.4,"p0":136.72},{"t0":9.49,"p0":136.7},{"t0":9.56,"p0":136.95},{"t0":9.65,"p0":137.31},{"t0":9.74,"p0":137.4},{"t0":9.83,"p0":137.74},{"t0":9.95,"p0":137.84},{"t0":10.05,"p0":138.1},{"t0":10.13,"p0":137.97},{"t0":10.28,"p0":138.03},{"t0":10.37,"p0":137.82},{"t0":10.53,"p0":138.58},{"t0":10.64,"p0":138.41},{"t0":10.81,"p0":137.94},{"t0":10.96,"p0":137.97},{"t0":11.1,"p0":137.72},{"t0":11.3,"p0":137.46},{"t0":11.39,"p0":138.07},{"t0":11.5,"p0":138.03},{"t0":11.57,"p0":137.74},{"t0":11.78,"p0":138.1},{"t0":11.89,"p0":137.84},{"t0":11.98,"p0":137.84},{"t0":12.05,"p0":137.46},{"t0":12.14,"p0":137.69},{"t0":12.21,"p0":137.08},{"t0":12.31,"p0":137.59},{"t0":12.46,"p0":137.31},{"t0":12.61,"p0":137.84},{"t0":12.73,"p0":138.53},{"t0":12.86,"p0":138.25},{"t0":12.97,"p0":138.2},{"t0":13.18,"p0":137.52},{"t0":13.25,"p0":137.72},{"t0":13.47,"p0":136.98},{"t0":13.57,"p0":137.33},{"t0":13.65,"p0":137.31},{"t0":13.75,"p0":137.84},{"t0":13.9,"p0":138.29},{"t0":14.04,"p0":138.01},{"t0":14.22,"p0":138.01},{"t0":14.36,"p0":138.73},{"t0":14.47,"p0":138.8},{"t0":14.58,"p0":139.22},{"t0":14.69,"p0":138.61},{"t0":14.79,"p0":138.58},{"t0":14.94,"p0":137.59},{"t0":15.04,"p0":137.33},{"t0":15.12,"p0":138.35},{"t0":15.26,"p0":139.5},{"t0":15.44,"p0":140.9},{"t0":15.55,"p0":141.0},{"t0":15.63,"p0":141.4},{"t0":15.8,"p0":139.94},{"t0":15.87,"p0":140.03},{"t0":16.05,"p0":139.41},{"t0":16.16,"p0":140.13},{"t0":16.23,"p0":139.75},{"t0":16.32,"p0":140.7},{"t0":16.41,"p0":140.7},{"t0":16.49,"p0":141.25},{"t0":16.57,"p0":141.25},{"t0":16.69,"p0":140.83},{"t0":16.8,"p0":141.05},{"t0":16.89,"p0":140.87},{"t0":16.99,"p0":141.05},{"t0":17.09,"p0":140.96},{"t0":17.23,"p0":140.32},{"t0":17.34,"p0":140.2},{"t0":17.48,"p0":139.56},{"t0":17.55,"p0":139.62},{"t0":17.62,"p0":140.26},{"t0":17.71,"p0":140.49},{"t0":17.84,"p0":140.32},{"t0":17.98,"p0":140.07},{"t0":18.09,"p0":140.64},{"t0":18.23,"p0":141.21},{"t0":18.37,"p0":141.09},{"t0":18.48,"p0":140.9},{"t0":18.55,"p0":141.12},{"t0":18.66,"p0":141.02},{"t0":18.8,"p0":141.6},{"t0":18.9,"p0":141.63},{"t0":19.02,"p0":141.25},{"t0":19.13,"p0":141.21},{"t0":19.3,"p0":141.85},{"t0":19.45,"p0":141.72},{"t0":19.54,"p0":141.53},{"t0":19.63,"p0":141.98},{"t0":19.73,"p0":141.15},{"t0":19.84,"p0":141.02},{"t0":19.91,"p0":141.05},{"t0":20.0,"p0":141.4},{"t0":20.16,"p0":141.4},{"t0":20.27,"p0":141.72},{"t0":20.45,"p0":141.94},{"t0":20.56,"p0":141.63},{"t0":20.67,"p0":141.72},{"t0":20.81,"p0":141.4},{"t0":20.9,"p0":141.79},{"t0":20.99,"p0":140.96},{"t0":21.12,"p0":140.7},{"t0":21.28,"p0":141.18},{"t0":21.46,"p0":141.05},{"t0":21.56,"p0":140.39},{"t0":21.78,"p0":139.81},{"t0":21.89,"p0":139.73},{"t0":22.03,"p0":139.75},{"t0":22.21,"p0":140.45},{"t0":22.53,"p0":141.72},{"t0":22.64,"p0":141.4},{"t0":22.75,"p0":141.34},{"t0":22.82,"p0":141.15},{"t0":22.89,"p0":141.4},{"t0":23.01,"p0":141.4},{"t0":23.14,"p0":140.96},{"t0":23.28,"p0":140.87},{"t0":23.46,"p0":141.02},{"t0":23.57,"p0":140.92},{"t0":23.71,"p0":140.92},{"t0":23.8,"p0":140.54},{"t0":23.96,"p0":140.67},{"t0":24.07,"p0":140.13},{"t0":24.18,"p0":140.01},{"t0":24.3,"p0":139.33},{"t0":24.47,"p0":139.98},{"t0":24.56,"p0":139.81},{"t0":24.68,"p0":141.02},{"t0":24.87,"p0":141.34},{"t0":25.07,"p0":140.83},{"t0":25.22,"p0":140.32},{"t0":25.43,"p0":141.34},{"t0":25.59,"p0":140.58},{"t0":25.68,"p0":140.67},{"t0":25.83,"p0":140.07},{"t0":26.01,"p0":140.3},{"t0":26.08,"p0":140.39},{"t0":26.19,"p0":141.34},{"t0":26.37,"p0":141.12},{"t0":26.55,"p0":141.34},{"t0":26.62,"p0":141.72},{"t0":26.73,"p0":141.28},{"t0":26.87,"p0":142.4},{"t0":26.98,"p0":142.27},{"t0":27.05,"p0":142.32},{"t0":27.16,"p0":141.53},{"t0":27.34,"p0":140.77},{"t0":27.48,"p0":140.7},{"t0":27.62,"p0":139.94},{"t0":27.72,"p0":139.88},{"t0":27.8,"p0":139.5},{"t0":27.95,"p0":139.78},{"t0":28.04,"p0":139.69},{"t0":28.12,"p0":139.94},{"t0":28.2,"p0":139.81},{"t0":28.3,"p0":140.07},{"t0":28.41,"p0":139.75},{"t0":28.52,"p0":139.11},{"t0":28.63,"p0":138.67},{"t0":28.81,"p0":138.86},{"t0":28.98,"p0":138.61},{"t0":29.18,"p0":138.33},{"t0":29.29,"p0":138.41},{"t0":29.45,"p0":138.1},{"t0":29.7,"p0":137.27},{"t0":29.88,"p0":138.03},{"t0":30.02,"p0":138.12},{"t0":30.2,"p0":138.38},{"t0":30.35,"p0":138.16},{"t0":30.45,"p0":138.41},{"t0":30.56,"p0":138.92},{"t0":30.71,"p0":138.99},{"t0":30.81,"p0":138.86},{"t0":30.88,"p0":139.05},{"t0":30.99,"p0":139.11},{"t0":31.14,"p0":139.65},{"t0":31.21,"p0":139.65},{"t0":31.31,"p0":139.43},{"t0":31.39,"p0":139.5},{"t0":31.46,"p0":139.43},{"t0":31.67,"p0":140.39},{"t0":31.8,"p0":140.87},{"t0":31.89,"p0":140.51},{"t0":32.03,"p0":140.6},{"t0":32.14,"p0":140.32},{"t0":32.21,"p0":140.41},{"t0":32.3,"p0":140.2},{"t0":32.39,"p0":140.36},{"t0":32.5,"p0":140.9},{"t0":32.57,"p0":140.83},{"t0":32.85,"p0":139.94}],
"cvdAll":[{"t":9.13,"v":0.319},{"t":9.28,"v":0.324},{"t":9.5,"v":0.284},{"t":9.61,"v":0.284},{"t":9.86,"v":0.332},{"t":10.07,"v":0.421},{"t":10.36,"v":0.4},{"t":10.57,"v":0.421},{"t":10.86,"v":0.358},{"t":11.0,"v":0.358},{"t":11.14,"v":0.319},{"t":11.21,"v":0.327},{"t":11.43,"v":0.288},{"t":11.71,"v":0.265},{"t":11.93,"v":0.257},{"t":12.14,"v":0.195},{"t":12.32,"v":0.125},{"t":12.71,"v":0.12},{"t":12.79,"v":0.148},{"t":12.93,"v":0.14},{"t":13.14,"v":0.101},{"t":13.43,"v":0.039},{"t":13.61,"v":0.016},{"t":14.0,"v":0.008},{"t":14.29,"v":0.005},{"t":14.36,"v":0.008},{"t":14.57,"v":0.132},{"t":14.64,"v":0.109},{"t":14.86,"v":0.109},{"t":15.04,"v":0.098},{"t":15.43,"v":0.305},{"t":15.54,"v":0.382},{"t":15.72,"v":0.366},{"t":15.89,"v":0.397},{"t":16.0,"v":0.463},{"t":16.07,"v":0.467},{"t":16.25,"v":0.553},{"t":16.36,"v":0.55},{"t":16.5,"v":0.615},{"t":16.64,"v":0.6},{"t":16.96,"v":0.654},{"t":17.25,"v":0.62},{"t":17.36,"v":0.631},{"t":17.5,"v":0.569},{"t":17.71,"v":0.597},{"t":18.0,"v":0.6},{"t":18.14,"v":0.639},{"t":18.43,"v":0.643},{"t":18.57,"v":0.673},{"t":18.75,"v":0.696},{"t":18.82,"v":0.685},{"t":19.14,"v":0.701},{"t":19.29,"v":0.732},{"t":19.57,"v":0.818},{"t":19.82,"v":0.794},{"t":19.96,"v":0.81},{"t":20.18,"v":0.807},{"t":20.29,"v":0.821},{"t":20.46,"v":0.826},{"t":20.71,"v":0.794},{"t":20.89,"v":0.81},{"t":21.04,"v":0.782},{"t":21.25,"v":0.783},{"t":21.72,"v":0.701},{"t":22.0,"v":0.717},{"t":22.29,"v":0.802},{"t":22.43,"v":0.849},{"t":22.82,"v":0.844},{"t":23.14,"v":0.821},{"t":23.36,"v":0.833},{"t":23.64,"v":0.826},{"t":23.79,"v":0.815},{"t":24.0,"v":0.815},{"t":24.32,"v":0.755},{"t":24.64,"v":0.776},{"t":24.93,"v":0.748},{"t":25.14,"v":0.724},{"t":25.29,"v":0.74},{"t":25.58,"v":0.74},{"t":25.72,"v":0.727},{"t":26.04,"v":0.752},{"t":26.68,"v":0.76},{"t":26.9,"v":0.776},{"t":27.08,"v":0.748},{"t":27.43,"v":0.685},{"t":27.54,"v":0.748},{"t":27.72,"v":0.74},{"t":27.79,"v":0.755},{"t":28.08,"v":0.752},{"t":28.51,"v":0.732},{"t":28.79,"v":0.735},{"t":29.01,"v":0.69},{"t":29.22,"v":0.698},{"t":29.47,"v":0.6},{"t":29.63,"v":0.639},{"t":29.72,"v":0.615},{"t":29.83,"v":0.74},{"t":29.93,"v":0.779},{"t":30.11,"v":0.864},{"t":30.43,"v":0.888},{"t":30.54,"v":0.861},{"t":30.86,"v":0.888},{"t":31.22,"v":0.903},{"t":31.44,"v":0.919},{"t":31.65,"v":0.981},{"t":31.94,"v":0.981},{"t":32.15,"v":0.977},{"t":32.78,"v":0.896}],
"cvd100":[{"t":9.13,"v":0.358},{"t":9.28,"v":0.369},{"t":9.5,"v":0.335},{"t":9.71,"v":0.335},{"t":9.89,"v":0.343},{"t":10.07,"v":0.369},{"t":10.36,"v":0.369},{"t":10.5,"v":0.371},{"t":10.79,"v":0.327},{"t":10.96,"v":0.327},{"t":11.14,"v":0.265},{"t":11.5,"v":0.21},{"t":11.79,"v":0.21},{"t":12.21,"v":0.151},{"t":12.71,"v":0.12},{"t":13.0,"v":0.062},{"t":13.36,"v":0.031},{"t":13.57,"v":0.0},{"t":13.79,"v":0.016},{"t":14.0,"v":0.047},{"t":14.32,"v":0.042},{"t":14.57,"v":0.086},{"t":14.75,"v":0.062},{"t":15.0,"v":0.055},{"t":15.29,"v":0.195},{"t":15.72,"v":0.234},{"t":15.93,"v":0.257},{"t":16.07,"v":0.241},{"t":16.21,"v":0.213},{"t":16.36,"v":0.213},{"t":16.75,"v":0.257},{"t":16.86,"v":0.241},{"t":17.03,"v":0.237},{"t":17.5,"v":0.17},{"t":17.68,"v":0.199},{"t":17.93,"v":0.192},{"t":18.21,"v":0.21},{"t":18.43,"v":0.21},{"t":18.75,"v":0.223},{"t":19.14,"v":0.206},{"t":19.25,"v":0.213},{"t":19.57,"v":0.273},{"t":20.14,"v":0.307},{"t":20.36,"v":0.332},{"t":20.5,"v":0.33},{"t":20.79,"v":0.389},{"t":20.89,"v":0.421},{"t":21.25,"v":0.444},{"t":21.54,"v":0.455},{"t":21.72,"v":0.439},{"t":21.89,"v":0.444},{"t":22.21,"v":0.561},{"t":22.57,"v":0.565},{"t":22.86,"v":0.587},{"t":23.29,"v":0.573},{"t":23.64,"v":0.589},{"t":23.93,"v":0.607},{"t":24.22,"v":0.615},{"t":24.68,"v":0.724},{"t":24.97,"v":0.681},{"t":25.29,"v":0.74},{"t":25.72,"v":0.81},{"t":26.08,"v":0.896},{"t":26.43,"v":0.907},{"t":26.79,"v":0.896},{"t":27.0,"v":0.841},{"t":27.29,"v":0.74},{"t":27.47,"v":0.712},{"t":27.72,"v":0.755},{"t":27.93,"v":0.779},{"t":28.15,"v":0.784},{"t":28.36,"v":0.81},{"t":28.51,"v":0.805},{"t":28.79,"v":0.822},{"t":29.26,"v":0.815},{"t":29.47,"v":0.76},{"t":29.72,"v":0.784},{"t":30.15,"v":0.945},{"t":30.51,"v":0.966},{"t":31.01,"v":0.977},{"t":31.44,"v":0.981},{"t":31.65,"v":0.981},{"t":31.94,"v":0.974},{"t":32.15,"v":0.966},{"t":32.33,"v":0.997},{"t":32.44,"v":0.989},{"t":32.78,"v":0.88}],
"cvd1k":[{"t":9.13,"v":0.657},{"t":9.28,"v":0.665},{"t":9.53,"v":0.569},{"t":9.78,"v":0.579},{"t":9.89,"v":0.576},{"t":10.04,"v":0.623},{"t":10.14,"v":0.615},{"t":10.21,"v":0.584},{"t":10.29,"v":0.592},{"t":10.36,"v":0.572},{"t":10.5,"v":0.589},{"t":10.57,"v":0.587},{"t":10.86,"v":0.506},{"t":10.96,"v":0.488},{"t":11.14,"v":0.413},{"t":11.21,"v":0.41},{"t":11.29,"v":0.366},{"t":11.71,"v":0.296},{"t":11.93,"v":0.269},{"t":12.21,"v":0.202},{"t":12.43,"v":0.164},{"t":12.71,"v":0.148},{"t":12.79,"v":0.132},{"t":13.0,"v":0.125},{"t":13.21,"v":0.093},{"t":13.43,"v":0.031},{"t":13.61,"v":0.02},{"t":13.71,"v":0.039},{"t":13.82,"v":0.016},{"t":14.0,"v":0.031},{"t":14.22,"v":0.008},{"t":14.36,"v":0.016},{"t":14.57,"v":0.117},{"t":14.68,"v":0.089},{"t":14.86,"v":0.093},{"t":15.04,"v":0.07},{"t":15.36,"v":0.28},{"t":15.54,"v":0.265},{"t":15.64,"v":0.241},{"t":16.0,"v":0.241},{"t":16.21,"v":0.218},{"t":16.53,"v":0.382},{"t":16.82,"v":0.369},{"t":17.03,"v":0.389},{"t":17.21,"v":0.355},{"t":17.36,"v":0.347},{"t":17.46,"v":0.288},{"t":17.68,"v":0.296},{"t":17.96,"v":0.298},{"t":18.18,"v":0.33},{"t":18.43,"v":0.343},{"t":18.75,"v":0.436},{"t":18.86,"v":0.424},{"t":19.21,"v":0.444},{"t":19.57,"v":0.534},{"t":19.86,"v":0.514},{"t":20.18,"v":0.53},{"t":20.57,"v":0.564},{"t":20.75,"v":0.561},{"t":20.91,"v":0.6},{"t":21.04,"v":0.587},{"t":21.25,"v":0.597},{"t":21.5,"v":0.553},{"t":21.86,"v":0.511},{"t":22.14,"v":0.639},{"t":22.36,"v":0.643},{"t":22.5,"v":0.654},{"t":22.68,"v":0.654},{"t":22.97,"v":0.678},{"t":23.36,"v":0.682},{"t":23.64,"v":0.688},{"t":23.86,"v":0.706},{"t":24.22,"v":0.701},{"t":24.43,"v":0.717},{"t":24.68,"v":0.766},{"t":24.86,"v":0.743},{"t":25.14,"v":0.732},{"t":25.29,"v":0.755},{"t":25.47,"v":0.776},{"t":25.72,"v":0.774},{"t":25.9,"v":0.81},{"t":26.04,"v":0.805},{"t":26.15,"v":0.81},{"t":26.68,"v":0.81},{"t":26.9,"v":0.724},{"t":27.18,"v":0.607},{"t":27.47,"v":0.553},{"t":27.54,"v":0.631},{"t":27.79,"v":0.643},{"t":28.08,"v":0.654},{"t":28.33,"v":0.678},{"t":28.54,"v":0.67},{"t":28.68,"v":0.69},{"t":28.86,"v":0.685},{"t":29.01,"v":0.662},{"t":29.26,"v":0.657},{"t":29.47,"v":0.534},{"t":29.63,"v":0.584},{"t":29.72,"v":0.587},{"t":29.83,"v":0.724},{"t":30.15,"v":0.896},{"t":30.51,"v":0.935},{"t":30.93,"v":0.95},{"t":31.08,"v":0.939},{"t":31.58,"v":0.95},{"t":31.69,"v":0.978},{"t":31.9,"v":0.95},{"t":32.19,"v":0.966},{"t":32.47,"v":0.992},{"t":32.65,"v":0.994},{"t":32.78,"v":0.981}],
"cvd10k":[{"t":9.13,"v":0.241},{"t":9.28,"v":0.241},{"t":9.46,"v":0.21},{"t":9.64,"v":0.234},{"t":9.86,"v":0.288},{"t":10.04,"v":0.425},{"t":10.21,"v":0.425},{"t":10.39,"v":0.405},{"t":10.54,"v":0.428},{"t":10.71,"v":0.425},{"t":10.86,"v":0.374},{"t":10.96,"v":0.379},{"t":11.07,"v":0.361},{"t":11.21,"v":0.382},{"t":11.43,"v":0.343},{"t":11.64,"v":0.332},{"t":11.79,"v":0.355},{"t":11.93,"v":0.338},{"t":12.07,"v":0.304},{"t":12.21,"v":0.234},{"t":12.43,"v":0.171},{"t":12.57,"v":0.156},{"t":12.71,"v":0.164},{"t":12.93,"v":0.207},{"t":13.14,"v":0.164},{"t":13.29,"v":0.14},{"t":13.43,"v":0.062},{"t":13.61,"v":0.039},{"t":13.71,"v":0.016},{"t":14.0,"v":0.026},{"t":14.14,"v":0.003},{"t":14.32,"v":0.005},{"t":14.57,"v":0.195},{"t":14.68,"v":0.12},{"t":14.86,"v":0.129},{"t":15.04,"v":0.112},{"t":15.36,"v":0.358},{"t":15.57,"v":0.495},{"t":15.79,"v":0.46},{"t":15.97,"v":0.506},{"t":16.14,"v":0.592},{"t":16.25,"v":0.732},{"t":16.32,"v":0.706},{"t":16.5,"v":0.774},{"t":16.68,"v":0.727},{"t":17.0,"v":0.783},{"t":17.25,"v":0.745},{"t":17.34,"v":0.76},{"t":17.5,"v":0.688},{"t":17.68,"v":0.729},{"t":18.0,"v":0.748},{"t":18.18,"v":0.794},{"t":18.43,"v":0.802},{"t":18.57,"v":0.826},{"t":18.64,"v":0.802},{"t":18.75,"v":0.844},{"t":18.82,"v":0.818},{"t":19.14,"v":0.849},{"t":19.39,"v":0.903},{"t":19.57,"v":0.989},{"t":19.71,"v":0.981},{"t":19.82,"v":0.939},{"t":20.0,"v":0.974},{"t":20.18,"v":0.966},{"t":20.25,"v":0.986},{"t":20.5,"v":0.986},{"t":20.75,"v":0.903},{"t":20.93,"v":0.9},{"t":21.07,"v":0.849},{"t":21.29,"v":0.841},{"t":21.72,"v":0.748},{"t":21.89,"v":0.748},{"t":22.0,"v":0.724},{"t":22.21,"v":0.794},{"t":22.47,"v":0.868},{"t":22.89,"v":0.844},{"t":23.14,"v":0.802},{"t":23.57,"v":0.783},{"t":24.0,"v":0.732},{"t":24.29,"v":0.662},{"t":24.39,"v":0.65},{"t":24.64,"v":0.646},{"t":24.93,"v":0.615},{"t":25.14,"v":0.53},{"t":25.29,"v":0.537},{"t":25.54,"v":0.514},{"t":25.72,"v":0.494},{"t":25.83,"v":0.514},{"t":26.0,"v":0.517},{"t":26.11,"v":0.525},{"t":26.58,"v":0.53},{"t":26.75,"v":0.545},{"t":26.97,"v":0.623},{"t":27.15,"v":0.611},{"t":27.47,"v":0.553},{"t":27.54,"v":0.634},{"t":27.72,"v":0.603},{"t":27.83,"v":0.639},{"t":28.01,"v":0.607},{"t":28.18,"v":0.604},{"t":28.54,"v":0.569},{"t":28.65,"v":0.545},{"t":28.79,"v":0.545},{"t":28.93,"v":0.506},{"t":29.15,"v":0.488},{"t":29.22,"v":0.506},{"t":29.43,"v":0.41},{"t":29.61,"v":0.463},{"t":29.72,"v":0.428},{"t":29.83,"v":0.6},{"t":29.93,"v":0.662},{"t":30.04,"v":0.678},{"t":30.15,"v":0.732},{"t":30.4,"v":0.74},{"t":30.58,"v":0.802},{"t":30.93,"v":0.841},{"t":31.22,"v":0.857},{"t":31.44,"v":0.88},{"t":31.69,"v":0.992},{"t":31.76,"v":0.986},{"t":32.26,"v":0.942},{"t":32.44,"v":0.942},{"t":32.78,"v":0.877}],
"cvd100k":[{"t":9.13,"v":0.008},{"t":9.61,"v":0.012},{"t":9.71,"v":0.031},{"t":9.86,"v":0.034},{"t":9.96,"v":0.055},{"t":10.04,"v":0.14},{"t":10.79,"v":0.14},{"t":10.86,"v":0.121},{"t":11.11,"v":0.121},{"t":11.21,"v":0.137},{"t":11.64,"v":0.137},{"t":11.86,"v":0.109},{"t":12.0,"v":0.07},{"t":12.71,"v":0.07},{"t":12.75,"v":0.198},{"t":13.54,"v":0.198},{"t":13.64,"v":0.137},{"t":14.36,"v":0.137},{"t":14.43,"v":0.199},{"t":14.61,"v":0.202},{"t":14.64,"v":0.221},{"t":14.93,"v":0.221},{"t":15.0,"v":0.202},{"t":15.22,"v":0.246},{"t":15.39,"v":0.246},{"t":15.43,"v":0.179},{"t":15.54,"v":0.226},{"t":15.57,"v":0.397},{"t":15.68,"v":0.41},{"t":15.79,"v":0.413},{"t":16.0,"v":0.662},{"t":16.11,"v":0.665},{"t":16.22,"v":0.709},{"t":16.36,"v":0.67},{"t":16.64,"v":0.717},{"t":16.71,"v":0.701},{"t":16.82,"v":0.81},{"t":17.07,"v":0.81},{"t":17.18,"v":0.829},{"t":17.25,"v":0.81},{"t":19.21,"v":0.833},{"t":19.32,"v":0.893},{"t":19.71,"v":0.896},{"t":19.82,"v":0.911},{"t":19.93,"v":0.911},{"t":20.11,"v":0.88},{"t":20.46,"v":0.88},{"t":20.57,"v":0.861},{"t":20.68,"v":0.88},{"t":20.93,"v":0.88},{"t":21.04,"v":0.861},{"t":21.32,"v":0.861},{"t":21.79,"v":0.799},{"t":21.96,"v":0.818},{"t":22.25,"v":0.852},{"t":22.32,"v":0.732},{"t":22.39,"v":0.942},{"t":22.5,"v":0.958},{"t":23.25,"v":0.961},{"t":23.32,"v":0.994},{"t":23.54,"v":0.986},{"t":23.72,"v":0.966},{"t":24.22,"v":0.966},{"t":24.3,"v":0.857},{"t":24.72,"v":0.857},{"t":24.82,"v":0.815},{"t":24.97,"v":0.815},{"t":25.04,"v":0.872},{"t":25.72,"v":0.872},{"t":25.83,"v":0.818},{"t":26.68,"v":0.818},{"t":26.8,"v":0.888},{"t":27.47,"v":0.888},{"t":27.56,"v":0.927},{"t":28.22,"v":0.927},{"t":28.43,"v":0.896},{"t":28.83,"v":0.896},{"t":28.9,"v":0.857},{"t":29.08,"v":0.841},{"t":29.29,"v":0.841},{"t":29.58,"v":0.779},{"t":29.72,"v":0.779},{"t":29.79,"v":0.784},{"t":29.9,"v":0.724},{"t":30.45,"v":0.732},{"t":30.56,"v":0.522},{"t":30.9,"v":0.537},{"t":30.97,"v":0.558},{"t":31.22,"v":0.558},{"t":31.4,"v":0.576},{"t":31.45,"v":0.643},{"t":32.21,"v":0.643},{"t":32.29,"v":0.491},{"t":32.78,"v":0.491}],
"flask":[{"t":9.21,"v":0.079,"o":1},{"t":9.9,"v":0.318,"o":2},{"t":10.13,"v":0.327,"o":3},{"t":10.8,"v":0.042,"o":4},{"t":10.74,"v":0.005,"o":5},{"t":9.21,"v":0.005,"o":6},{"t":9.21,"v":0.079,"o":7}],
"peaks":[{"t":9.31,"v":0.012},{"t":9.59,"v":0.126},{"t":9.8,"v":0.089},{"t":10.01,"v":0.154},{"t":10.59,"v":0.012}]
},
"vconcat":[
{"width":1100,"height":297,
"title":{"text":"SOL_USDT","anchor":"start","frame":"group","font":"Liberation Sans","fontSize":17,"fontWeight":"bold","color":"#000","offset":4},
"encoding":{
"x":{"field":"t0","type":"quantitative","scale":{"domain":[9.13,32.79],"nice":false,"zero":false},"axis":null},
"y":{"field":"p0","type":"quantitative","scale":{"domain":[133.97,145.29],"nice":false,"zero":false},
"axis":{"orient":"right","title":"Price [USDT]","titleFontStyle":"italic","titleFontWeight":"normal","titleFontSize":14,"titleColor":"#444","titlePadding":14,"offset":4.5,"grid":false,"values":[134,134.4,134.8,135.2,135.6,136,136.4,136.8,137.2,137.6,138,138.4,138.8,139.2,139.6,140,140.4,140.8,141.2,141.6,142,142.4,142.8,143.2,143.6,144,144.4,144.8,145.2],"labelExpr":"datum.value%2==0 ? format(datum.value,'.2f') : ''","labelOverlap":false,"labelFlush":false,"labelFontSize":12.5,"labelColor":"#555","labelPadding":4,"domainColor":"#000","tickColor":"#000","tickSize":{"condition":{"test":"datum.value%2==0","value":6},"value":3}}}
},
"layer":[
{"data":{"name":"heat"},"mark":{"type":"rect","strokeWidth":1},
"encoding":{
"x2":{"field":"t1"},
"y2":{"field":"p1"},
"color":{"field":"v","type":"quantitative","scale":{"domain":[0,3.3,6.55,8.77],"range":["#000000","#ff0000","#ffff00","#ffffff"],"interpolate":"rgb"},
"legend":{"title":"Volume","titleFontStyle":"italic","titleFontWeight":"normal","titleFontSize":14,"titleColor":"#444","orient":"none","legendX":-86,"legendY":23,"gradientLength":245,"gradientThickness":29,"gradientStrokeColor":"#000","gradientStrokeWidth":1,"values":[0,2,4,6,8],"labelExpr":"datum.value==0 ? '0' : datum.value+' M'","labelFontSize":12.5,"labelColor":"#555","labelOffset":14,"titlePadding":3,"encode":{"labels":{"update":{"baseline":{"value":"middle"}}}}}},
"stroke":{"field":"v","type":"quantitative","scale":{"domain":[0,3.3,6.55,8.77],"range":["#000000","#ff0000","#ffff00","#ffffff"],"interpolate":"rgb"},"legend":null}
}},
{"data":{"name":"price"},"mark":{"type":"line","color":"#3079a9","strokeWidth":2.5,"clip":false}}
]},
{"width":1104,"height":214,
"encoding":{
"x":{"field":"t","type":"quantitative","scale":{"domain":[9.13,32.79],"nice":false,"zero":false},
"axis":{"title":"Date (UTC)","titleFontStyle":"italic","titleFontWeight":"normal","titleFontSize":14,"titleColor":"#444","titlePadding":11,"values":[12,16,20,24,28,32],"labelExpr":"datum.value==24 ? '11/19' : (datum.value%24)+'h'","labelFontSize":12,"labelColor":"#555","labelPadding":5,"domainColor":"#000","tickColor":"#000","tickSize":6,"grid":true,"gridColor":"#e9e9e9","gridWidth":1.5}},
"y":{"field":"v","type":"quantitative","scale":{"domain":[0,1],"nice":false},
"axis":{"title":"Normalized CVD [arb. u.]","titleFontStyle":"italic","titleFontWeight":"normal","titleFontSize":14,"titleColor":"#444","titlePadding":10,"values":[0,0.04,0.08,0.12,0.16,0.2,0.24,0.28,0.32,0.36,0.4,0.44,0.48,0.52,0.56,0.6,0.64,0.68,0.72,0.76,0.8,0.84,0.88,0.92,0.96,1],"labelExpr":"datum.value==1 ? '1.000' : datum.value==0 ? '0' : round(datum.value*100)%20==0 ? format(datum.value*1000,'.2f')+' m' : ''","labelOverlap":false,"labelFlush":false,"labelFontSize":12.5,"labelColor":"#555","labelPadding":4,"domainColor":"#000","tickColor":"#000","tickSize":{"condition":{"test":"round(datum.value*100)%20==0","value":7},"value":3},"grid":true,"gridColor":"#e9e9e9","gridWidth":1.5,"gridOpacity":{"condition":{"test":"round(datum.value*100)%20==0","value":1},"value":0}}}
},
"layer":[
{"data":{"name":"peaks"},"mark":{"type":"area","color":"#e3ebe8"},"encoding":{"y2":{"datum":0}}},
{"data":{"name":"flask"},"mark":{"type":"line","color":"#e8ecea","strokeWidth":2},"encoding":{"order":{"field":"o","type":"quantitative"}}},
{"data":{"values":[{"t":12.6,"v":0.248,"label":"MATERIAL"},{"t":12.9,"v":0.07,"label":"INDICATORS"}]},"mark":{"type":"text","font":"Liberation Sans","fontWeight":"bold","fontSize":27.6,"color":"#dfe2e2"},"encoding":{"text":{"field":"label"}}},
{"data":{"name":"cvdAll"},"mark":{"type":"line","strokeWidth":2.2},
"encoding":{"color":{"datum":"all orders","type":"nominal","scale":{"domain":["all orders","$100 < i < $1k","$1k < i < $10k","$10k < i < $100k","$100k < i < $1M","$1M < i < $10M"],"range":["#1f77b4","#ff7f0e","#2ca02c","#d62728","#9467bd","#8c564b"]},
"legend":{"title":" ","titleFontSize":2.5,"titlePadding":0,"orient":"none","legendX":-93,"legendY":287,"direction":"horizontal","columns":6,"gridAlign":"none","columnPadding":-3,"symbolType":"stroke","symbolSize":529,"symbolStrokeWidth":2.5,"labelFontSize":12.5,"labelColor":"#444","labelOffset":4,"padding":9.5,"fillColor":"#fff","strokeColor":"#eeeeee"}}}},
{"data":{"name":"cvd100"},"mark":{"type":"line","strokeWidth":2.2},"encoding":{"color":{"datum":"$100 < i < $1k","type":"nominal"}}},
{"data":{"name":"cvd1k"},"mark":{"type":"line","strokeWidth":2.2},"encoding":{"color":{"datum":"$1k < i < $10k","type":"nominal"}}},
{"data":{"name":"cvd100k"},"mark":{"type":"line","strokeWidth":2.2},"encoding":{"color":{"datum":"$100k < i < $1M","type":"nominal"}}},
{"data":{"name":"cvd10k"},"mark":{"type":"line","strokeWidth":2.2},"encoding":{"color":{"datum":"$10k < i < $100k","type":"nominal"}}},
{"data":{"values":[{"t":26.19,"v":0.337,"label":"곰지네 트레이딩 CVD"}]},"mark":{"type":"text","font":"Noto Sans CJK KR","fontWeight":"bold","fontSize":27,"color":"#000"},"encoding":{"text":{"field":"label"}}},
{"data":{"values":[{"t":26.13,"v":0.178,"label":"Powered By Material Indictors"},{"t":30.2,"v":-0.318,"label":"https://t.me/oddstrading2"}]},"mark":{"type":"text","font":"Noto Sans CJK KR","fontWeight":"bold","fontSize":23.8,"color":"#000"},"encoding":{"text":{"field":"label"}}}
]}
]}
